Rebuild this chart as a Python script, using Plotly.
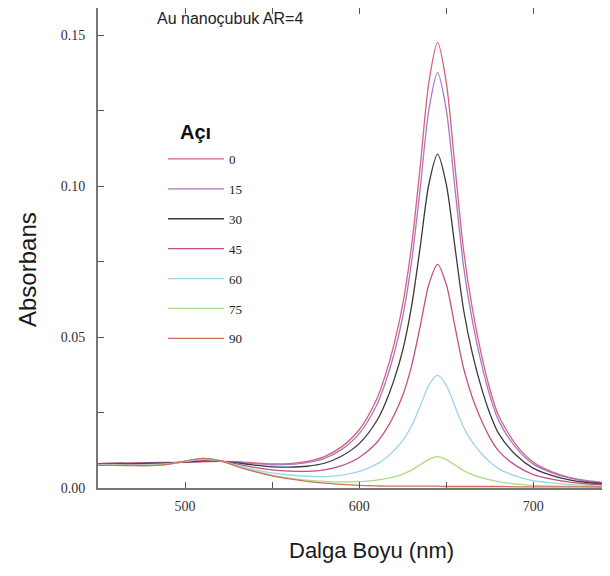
import plotly.graph_objects as go

wavelength = [450, 460, 470, 480, 490, 500, 510, 520, 530, 540, 550, 560, 570, 580, 590,
              600, 610, 615, 620, 625, 630, 635, 640, 645, 650, 655, 660, 665, 670, 675,
              680, 690, 700, 710, 720, 730, 745]

angles = ["0", "15", "30", "45", "60", "75", "90"]

abs_0 = [0.0081, 0.0082, 0.0083, 0.0084, 0.0085, 0.0085, 0.0087, 0.0088, 0.0087, 0.0083, 0.0080,
         0.0081, 0.0088, 0.0104, 0.0137, 0.0193, 0.0294, 0.0374, 0.0476, 0.0609, 0.0800, 0.1064,
         0.1344, 0.1476, 0.1343, 0.1063, 0.0784, 0.0593, 0.0446, 0.0328, 0.0240, 0.0144, 0.0085,
         0.0055, 0.0036, 0.0025, 0.0015]
abs_15 = [0.0081, 0.0082, 0.0082, 0.0084, 0.0084, 0.0085, 0.0088, 0.0088, 0.0085, 0.0081, 0.0077,
          0.0078, 0.0084, 0.0098, 0.0128, 0.0180, 0.0274, 0.0349, 0.0444, 0.0568, 0.0746, 0.0992,
          0.1253, 0.1376, 0.1252, 0.0991, 0.0731, 0.0553, 0.0416, 0.0306, 0.0224, 0.0134, 0.0079,
          0.0052, 0.0034, 0.0023, 0.0014]
abs_30 = [0.0079, 0.0081, 0.0081, 0.0082, 0.0083, 0.0086, 0.0090, 0.0089, 0.0083, 0.0076, 0.0070,
          0.0069, 0.0072, 0.0082, 0.0106, 0.0147, 0.0222, 0.0281, 0.0358, 0.0457, 0.0600, 0.0798,
          0.1007, 0.1106, 0.1006, 0.0797, 0.0588, 0.0445, 0.0335, 0.0247, 0.0181, 0.0109, 0.0065,
          0.0043, 0.0028, 0.0019, 0.0012]
abs_45 = [0.0078, 0.0079, 0.0078, 0.0079, 0.0081, 0.0087, 0.0093, 0.0090, 0.0079, 0.0068, 0.0060,
          0.0056, 0.0055, 0.0060, 0.0074, 0.0101, 0.0150, 0.0190, 0.0241, 0.0307, 0.0403, 0.0535,
          0.0675, 0.0741, 0.0674, 0.0534, 0.0395, 0.0299, 0.0226, 0.0167, 0.0123, 0.0074, 0.0044,
          0.0030, 0.0020, 0.0014, 0.0009]
abs_60 = [0.0077, 0.0077, 0.0076, 0.0077, 0.0080, 0.0088, 0.0095, 0.0090, 0.0075, 0.0061, 0.0050,
          0.0043, 0.0039, 0.0038, 0.0043, 0.0055, 0.0079, 0.0098, 0.0124, 0.0157, 0.0205, 0.0271,
          0.0341, 0.0374, 0.0340, 0.0270, 0.0200, 0.0152, 0.0115, 0.0086, 0.0064, 0.0039, 0.0024,
          0.0017, 0.0012, 0.0009, 0.0006]
abs_75 = [0.0075, 0.0075, 0.0075, 0.0075, 0.0078, 0.0089, 0.0097, 0.0091, 0.0072, 0.0056, 0.0043,
          0.0033, 0.0026, 0.0022, 0.0020, 0.0021, 0.0026, 0.0031, 0.0037, 0.0046, 0.0059, 0.0077,
          0.0095, 0.0104, 0.0094, 0.0076, 0.0057, 0.0044, 0.0034, 0.0027, 0.0021, 0.0013, 0.0009,
          0.0007, 0.0006, 0.0005, 0.0004]
abs_90 = [0.0075, 0.0075, 0.0074, 0.0074, 0.0078, 0.0089, 0.0098, 0.0091, 0.0071, 0.0054, 0.0040,
          0.0030, 0.0022, 0.0016, 0.0012, 0.0009, 0.0007, 0.0006, 0.0006, 0.0006, 0.0006, 0.0006,
          0.0006, 0.0006, 0.0005, 0.0005, 0.0005, 0.0005, 0.0005, 0.0005, 0.0005, 0.0004, 0.0004,
          0.0004, 0.0004, 0.0004, 0.0003]

series = [abs_0, abs_15, abs_30, abs_45, abs_60, abs_75, abs_90]
colors = ["#d9607a", "#a877c4", "#3a3a3a", "#c2508e", "#9fd3ea", "#a9dc84", "#d0705a"]

x_ticks = [500, 600, 700]
y_ticks = [0.00, 0.05, 0.10, 0.15]

fig = go.Figure()
for name, ys, c in zip(angles, series, colors):
    fig.add_trace(go.Scatter(
        x=wavelength, y=ys, name=name, mode="lines", legendgroup=name,
        line=dict(color=c, width=1.3, shape="spline", smoothing=0.8),
    ))

# page body has an 8px offset; plot spans screen x 98..610, y 8..488
W, H = 512, 480
def px(sx):
    return (sx - 98) / W
def py(sy):
    return 1 - (sy - 8) / H

fig.update_layout(
    width=610, height=576,
    margin=dict(l=90, r=8, t=0, b=96),
    paper_bgcolor="white", plot_bgcolor="white",
    showlegend=True,
    legend=dict(
        x=px(163), y=py(144), xanchor="left", yanchor="top",
        bgcolor="rgba(0,0,0,0)",
        font=dict(family="Liberation Serif", size=13, color="#222"),
        tracegroupgap=10, itemwidth=56,
    ),
    xaxis=dict(
        range=[450, 744], tickvals=x_ticks, ticks="inside", ticklen=6, tickcolor="#555",
        showline=True, linecolor="#777", linewidth=2, mirror="ticks", showgrid=False, zeroline=False,
        tickfont=dict(family="Liberation Serif", size=14, color="#333"),
        minor=dict(dtick=50, ticks="inside", ticklen=6, tickcolor="#555"),
        ticklabelstandoff=4, automargin=False,
    ),
    yaxis=dict(
        range=[0, 0.159], tickvals=y_ticks, tickformat=".2f", ticks="inside", ticklen=6, tickcolor="#555",
        showline=True, linecolor="#777", linewidth=2, showgrid=False, zeroline=False,
        tickfont=dict(family="Liberation Serif", size=14, color="#333"),
        minor=dict(dtick=0.025, ticks="inside", ticklen=6, tickcolor="#555"),
        ticklabelstandoff=8, automargin=False,
    ),
    annotations=[
        dict(text="Au nanoçubuk AR=4", xref="paper", yref="paper", x=px(155), y=py(18),
             xanchor="left", yanchor="middle", showarrow=False,
             font=dict(family="Liberation Sans", size=16, color="#222")),
        dict(text="<b>Açı</b>", xref="paper", yref="paper", x=px(178), y=py(132),
             xanchor="left", yanchor="middle", showarrow=False,
             font=dict(family="Liberation Sans", size=20, color="#111")),
        dict(text="Dalga Boyu (nm)", xref="paper", yref="paper", x=px(371), y=py(550),
             xanchor="center", yanchor="middle", showarrow=False,
             font=dict(family="Liberation Sans", size=22, color="#1a1a1a")),
        dict(text="Absorbans", xref="paper", yref="paper", x=px(27), y=py(270),
             xanchor="center", yanchor="middle", showarrow=False, textangle=-90,
             font=dict(family="Liberation Sans", size=24, color="#1a1a1a")),
    ],
)

fig.write_html("out.html")
